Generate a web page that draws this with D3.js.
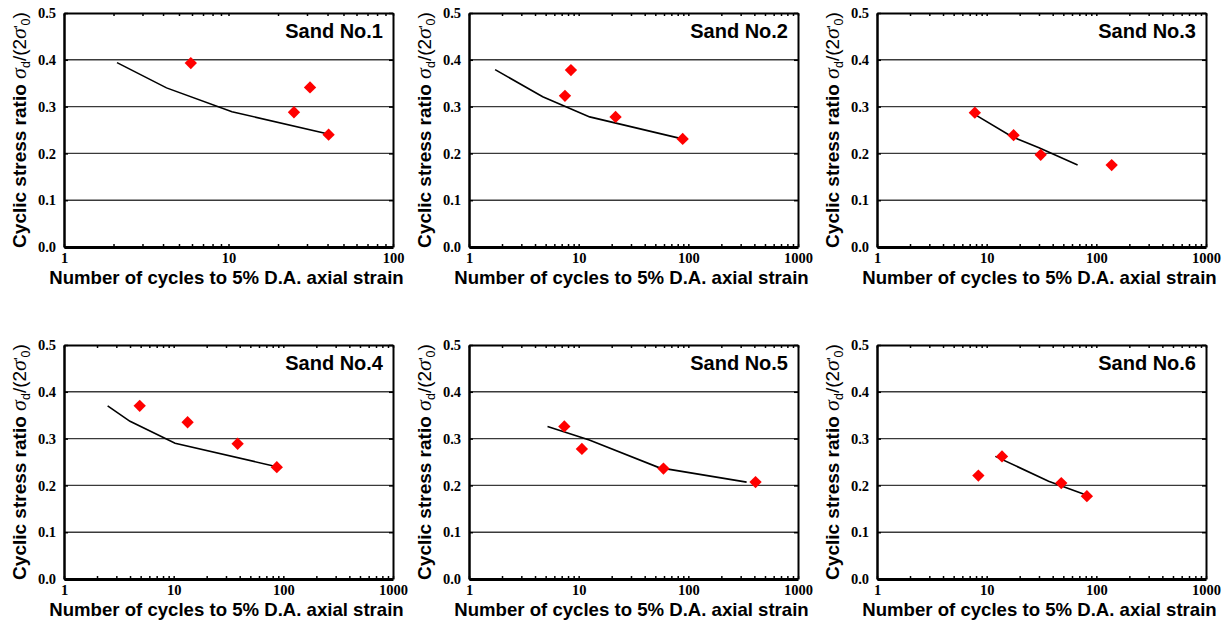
<!DOCTYPE html>
<html>
<head>
<meta charset="utf-8">
<script src="https://cdn.jsdelivr.net/npm/d3@7"></script>
<style>
  body { margin: 0; background: #fff; }
</style>
</head>
<body>
<div id="container"></div>
<script>
// panel names and x-axis upper limits
const sandNames = ["Sand No.1", "Sand No.2", "Sand No.3", "Sand No.4", "Sand No.5", "Sand No.6"];
const xMaxes = [100, 1000, 1000, 1000, 1000, 1000];
const majorTicks = [1, 10, 100, 1000];
const yTickValues = [0, 0.1, 0.2, 0.3, 0.4, 0.5];
const gridValues = [0.1, 0.2, 0.3, 0.4];

// test results (red diamonds): [cycles, stress ratio]
const sand1Tests = [[5.9, 0.393], [25, 0.288], [31.3, 0.341], [40.6, 0.240]];
const sand2Tests = [[7.5, 0.323], [8.5, 0.378], [21.7, 0.278], [88.8, 0.231]];
const sand3Tests = [[7.8, 0.287], [17.6, 0.239], [31.1, 0.197], [138, 0.175]];
const sand4Tests = [[4.9, 0.370], [13.4, 0.335], [38.3, 0.289], [87.2, 0.239]];
const sand5Tests = [[7.4, 0.326], [10.7, 0.278], [59.3, 0.236], [410, 0.207]];
const sand6Tests = [[8.4, 0.221], [13.8, 0.262], [47.9, 0.205], [82, 0.177]];

// simulated curves (black line): [cycles, stress ratio]
const sand1Curve = [[2.1, 0.394], [4.2, 0.340], [10.5, 0.289], [41, 0.241]];
const sand2Curve = [[1.73, 0.379], [4.7, 0.321], [12.6, 0.278], [88, 0.231]];
const sand3Curve = [[7.3, 0.287], [16.9, 0.236], [30, 0.212], [67.5, 0.175]];
const sand4Curve = [[2.5, 0.370], [4.0, 0.337], [10.3, 0.290], [87, 0.240]];
const sand5Curve = [[5.2, 0.326], [12.5, 0.297], [54, 0.238], [340, 0.207]];
const sand6Curve = [[12, 0.262], [36.7, 0.209], [82, 0.179]];

const allTests = [sand1Tests, sand2Tests, sand3Tests, sand4Tests, sand5Tests, sand6Tests];
const allCurves = [sand1Curve, sand2Curve, sand3Curve, sand4Curve, sand5Curve, sand6Curve];

let w = 1229;
let h = 626;
let plotW = 329;
let plotH = 234;
let colX = [64, 469, 877];
let rowY = [13, 345];

let viz = d3.select("#container")
  .append("svg")
    .attr("width", w)
    .attr("height", h)
    .style("background-color", "white");

let sansBold = "'Liberation Sans', Arial, sans-serif";
let serif = "'Liberation Serif', 'Times New Roman', serif";

sandNames.forEach(function(name, i){
  let left = colX[i % 3];
  let top = rowY[Math.floor(i / 3)];
  let g = viz.append("g").attr("transform", "translate(" + left + "," + top + ")");

  let xScale = d3.scaleLog().domain([1, xMaxes[i]]).range([0, plotW]);
  let yScale = d3.scaleLinear().domain([0, 0.5]).range([plotH, 0]);

  // horizontal gridlines
  g.selectAll(".grid").data(gridValues).enter()
    .append("line")
      .attr("class", "grid")
      .attr("x1", 0)
      .attr("x2", plotW)
      .attr("y1", function(d){ return yScale(d); })
      .attr("y2", function(d){ return yScale(d); })
      .attr("stroke", "#3a3a3a")
      .attr("stroke-width", 1.4);

  let xTicks = xScale.ticks();
  function xLabel(d){
    return majorTicks.indexOf(d) >= 0 ? String(d) : "";
  }

  let xAxisBottom = d3.axisBottom(xScale).tickValues(xTicks).tickFormat(xLabel)
    .tickSizeInner(-3).tickSizeOuter(0).tickPadding(6);
  let xAxisTop = d3.axisTop(xScale).tickValues(xTicks).tickFormat("")
    .tickSizeInner(-3).tickSizeOuter(0);
  let yAxisLeft = d3.axisLeft(yScale).tickValues(yTickValues).tickFormat(d3.format(".1f"))
    .tickSizeInner(-4).tickSizeOuter(0).tickPadding(8);
  let yAxisRight = d3.axisRight(yScale).tickValues(yTickValues).tickFormat("")
    .tickSizeInner(-4).tickSizeOuter(0);

  let gTop = g.append("g").call(xAxisTop);
  let gRight = g.append("g").attr("transform", "translate(" + plotW + ",0)").call(yAxisRight);
  let gLeft = g.append("g").call(yAxisLeft);
  let gBottom = g.append("g").attr("transform", "translate(0," + plotH + ")").call(xAxisBottom);

  [gTop, gRight, gLeft, gBottom].forEach(function(ax){
    ax.selectAll(".tick line").attr("stroke", "#000").attr("stroke-width", 1.5);
    ax.select(".domain").attr("stroke", "#000");
  });
  gTop.select(".domain").attr("stroke-width", 2);
  gRight.select(".domain").attr("stroke-width", 2);
  gLeft.select(".domain").attr("stroke-width", 2.5);
  gBottom.select(".domain").attr("stroke-width", 3);

  [gLeft, gBottom].forEach(function(ax){
    ax.selectAll("text")
      .attr("font-family", serif)
      .attr("font-weight", "bold")
      .attr("font-size", "14.5px")
      .attr("fill", "#000");
  });

  // model curve
  let line = d3.line()
    .x(function(d){ return xScale(d[0]); })
    .y(function(d){ return yScale(d[1]); });
  g.append("path")
    .datum(allCurves[i])
    .attr("d", line)
    .attr("fill", "none")
    .attr("stroke", "#000")
    .attr("stroke-width", 1.6);

  // test points as diamonds
  let diamond = d3.symbol().type(d3.symbolSquare).size(76);
  g.selectAll(".pt").data(allTests[i]).enter()
    .append("path")
      .attr("class", "pt")
      .attr("d", diamond)
      .attr("transform", function(d){
        return "translate(" + xScale(d[0]) + "," + yScale(d[1]) + ") rotate(45)";
      })
      .attr("fill", "#ff0000");

  // panel title
  g.append("text")
    .text(name)
    .attr("x", plotW - 10)
    .attr("y", 24.5)
    .attr("text-anchor", "end")
    .attr("font-family", sansBold)
    .attr("font-weight", "bold")
    .attr("font-size", "20px");

  // x axis title
  g.append("text")
    .text("Number of cycles to 5% D.A. axial strain")
    .attr("x", plotW / 2 - 2)
    .attr("y", plotH + 37)
    .attr("text-anchor", "middle")
    .attr("font-family", sansBold)
    .attr("font-weight", "bold")
    .attr("font-size", "18.6px");

  // y axis title with sigma symbols
  let yt = g.append("text")
    .attr("transform", "translate(-38," + (plotH / 2) + ") rotate(-90)")
    .attr("text-anchor", "middle")
    .attr("font-family", sansBold)
    .attr("font-size", "19px");
  yt.append("tspan").attr("font-weight", "bold").text("Cyclic stress ratio ");
  yt.append("tspan").attr("font-family", serif).attr("font-style", "italic").attr("font-size", "22px").text("σ");
  yt.append("tspan").attr("font-size", "12.5px").attr("dy", 4).text("d");
  yt.append("tspan").attr("dy", -4).text("/(2");
  yt.append("tspan").attr("font-family", serif).attr("font-style", "italic").attr("font-size", "22px").text("σ");
  yt.append("tspan").attr("font-size", "14px").attr("dy", -2).text("'");
  yt.append("tspan").attr("font-size", "12.5px").attr("dy", 6).text("0");
  yt.append("tspan").attr("dy", -4).text(")");
});
</script>
</body>
</html>
